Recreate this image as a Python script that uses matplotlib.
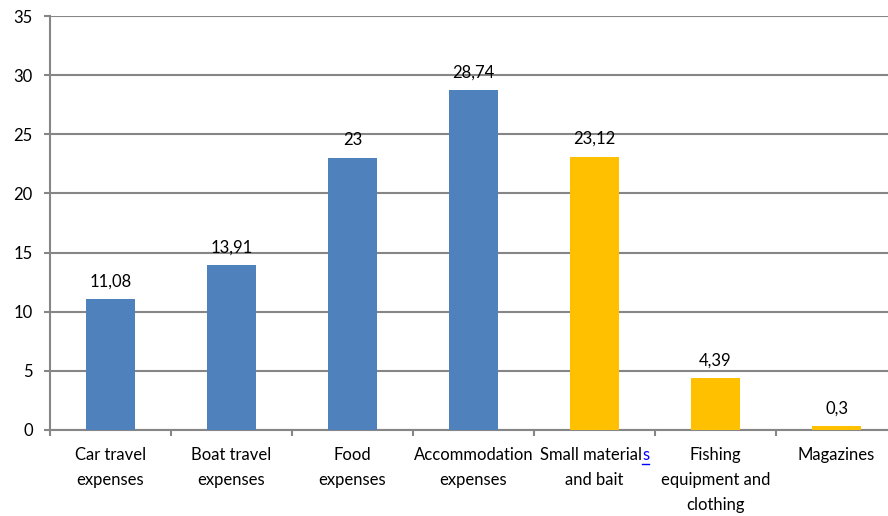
import numpy as np
import matplotlib
matplotlib.use("Agg")
import matplotlib.pyplot as plt
from matplotlib.font_manager import FontProperties
from matplotlib.lines import Line2D

# --- DATA ---
categories = [
    "Car travel\nexpenses",
    "Boat travel\nexpenses",
    "Food\nexpenses",
    "Accommodation\nexpenses",
    "Small materials\nand bait",
    "Fishing\nequipment and\nclothing",
    "Magazines",
]
values = [11.08, 13.91, 23, 28.74, 23.12, 4.39, 0.3]
groups = ["travel", "travel", "travel", "travel", "gear", "gear", "gear"]
y_ticks = [0, 5, 10, 15, 20, 25, 30, 35]

# --- STYLE ---
BLUE = "#4F81BD"
GOLD = "#FFC000"
GRID = "#868686"
LINK = "#0000FF"
FONT = "Lato"
FS = 12

plt.rcParams["font.family"] = [FONT, "DejaVu Sans"]

fig = plt.figure(figsize=(8.88, 5.16), dpi=100)
# plot area runs past the right edge of the figure
ax = fig.add_axes([50 / 888, 86 / 516, 847 / 888, 414 / 516])

x = np.arange(len(values))
colors = [BLUE if g == "travel" else GOLD for g in groups]
bars = ax.bar(x, values, width=0.4, color=colors, zorder=3)

labels = [f"{v:g}".replace(".", ",") for v in values]
ax.bar_label(bars, labels=labels, padding=7, fontsize=FS, color="black")

ax.set_xlim(-0.5, len(values) - 0.5)
ax.set_ylim(0, 35)

# horizontal gridlines
ax.set_yticks(y_ticks)
ax.yaxis.grid(True, color=GRID, linewidth=1.5, zorder=0)
ax.tick_params(axis="y", length=4.5, width=1.5, color=GRID, labelsize=FS, pad=8)

# category boundaries get the tick marks, centres get the labels
# ("Small materials" label is drawn separately below)
tick_text = list(categories)
tick_text[4] = ""
ax.set_xticks(np.arange(-0.5, len(values), 1.0))
ax.set_xticklabels([])
ax.tick_params(axis="x", which="major", length=4.5, width=1.5, color=GRID)
ax.set_xticks(x, minor=True)
ax.set_xticklabels(tick_text, minor=True, fontsize=FS, linespacing=1.72, va="top")
ax.tick_params(axis="x", which="minor", length=0, pad=12)

for side in ["top", "right"]:
    ax.spines[side].set_visible(False)
for side in ["left", "bottom"]:
    ax.spines[side].set_color(GRID)
    ax.spines[side].set_linewidth(1.5)

# the trailing "s" of "materials" is a blue underlined link
fig.canvas.draw()
r = fig.canvas.get_renderer()
first, rest = categories[4].split("\n", 1)
fp = FontProperties(family=[FONT, "DejaVu Sans"], size=FS)
full_w = r.get_text_width_height_descent(first, fp, ismath=False)[0]
stem_w = r.get_text_width_height_descent(first[:-1], fp, ismath=False)[0]
ref_bb = ax.xaxis.get_minorticklabels()[3].get_window_extent(r)
cx = ax.transData.transform((x[4], 0))[0]
left = round(cx - full_w / 2)
ax.annotate(first[:-1], xy=(left, ref_bb.y1), xycoords="figure pixels",
            fontsize=FS, va="top", ha="left", annotation_clip=False)
s = ax.annotate(first[-1], xy=(left + stem_w, ref_bb.y1), xycoords="figure pixels",
                fontsize=FS, va="top", ha="left", color=LINK,
                annotation_clip=False)
ax.annotate(rest, xy=(cx, ref_bb.y0), xycoords="figure pixels",
            fontsize=FS, va="bottom", ha="center", annotation_clip=False)
fig.canvas.draw()
sb = s.get_window_extent(r)
uy = ref_bb.y1 - 17
fig.add_artist(Line2D([sb.x0 / 888, sb.x1 / 888], [uy / 516] * 2,
                      color=LINK, linewidth=1, transform=fig.transFigure))

fig.savefig("out.png", dpi=100)
